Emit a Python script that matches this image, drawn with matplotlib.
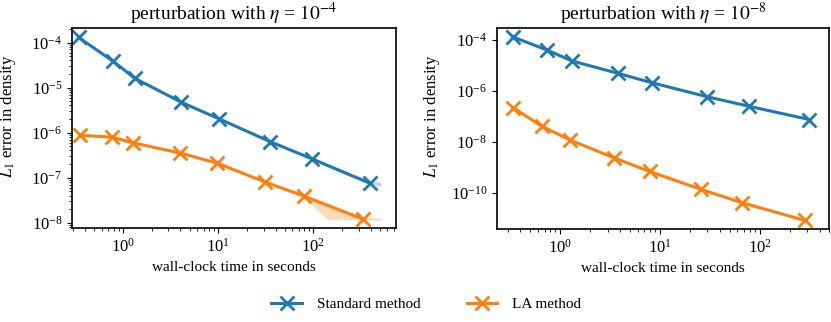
import matplotlib.pyplot as plt

plt.rcParams['font.family'] = 'serif'
plt.rcParams['font.serif'] = ['Liberation Serif', 'DejaVu Serif']
plt.rcParams['mathtext.fontset'] = 'stix'
plt.rcParams['font.size'] = 11
plt.rcParams['xtick.labelsize'] = 12
plt.rcParams['ytick.labelsize'] = 12
plt.rcParams['axes.linewidth'] = 1.2

# eta = 1e-4
t_std_a = [0.34, 0.79, 1.33, 4.1, 10.3, 35, 97, 398]
e_std_a = [1.3e-4, 3.8e-5, 1.6e-5, 4.7e-6, 2.0e-6, 6.3e-7, 2.6e-7, 7.4e-8]
t_la_a = [0.35, 0.76, 1.28, 4.0, 9.7, 31, 79, 333]
e_la_a = [8.7e-7, 7.9e-7, 5.9e-7, 3.5e-7, 2.1e-7, 8.0e-8, 3.9e-8, 1.2e-8]

# spread over runs (only visible at the long end)
band_std_t = [97, 200, 398, 510]
band_std_lo = [2.5e-7, 1.25e-7, 7.0e-8, 6.6e-8]
band_std_hi = [2.7e-7, 1.5e-7, 8.2e-8, 7.9e-8]
band_la_t = [79, 139, 333, 510]
band_la_lo = [3.9e-8, 1.2e-8, 1.15e-8, 1.12e-8]
band_la_hi = [3.9e-8, 2.6e-8, 1.3e-8, 1.25e-8]

# eta = 1e-8
t_std_b = [0.34, 0.74, 1.31, 3.8, 8.3, 30, 79, 316]
e_std_b = [1.28e-4, 4.0e-5, 1.5e-5, 4.9e-6, 2.1e-6, 5.9e-7, 2.5e-7, 7.6e-8]
t_la_b = [0.34, 0.66, 1.26, 3.5, 7.9, 26, 66, 282]
e_la_b = [2.2e-7, 4.1e-8, 1.2e-8, 2.4e-9, 7.1e-10, 1.4e-10, 4.3e-11, 8.7e-12]

blue = '#1f77b4'
orange = '#ff7f0e'

fig = plt.figure(figsize=(8.31, 3.22), dpi=100)
ax1 = fig.add_axes([0.0866, 0.292, 0.390, 0.621])
ax2 = fig.add_axes([0.598, 0.289, 0.400, 0.624])

style = dict(marker='x', markersize=10, markeredgewidth=2, linewidth=2.2)

ax1.fill_between(band_std_t, band_std_lo, band_std_hi, color=blue, alpha=0.3, linewidth=0)
ax1.fill_between(band_la_t, band_la_lo, band_la_hi, color=orange, alpha=0.3, linewidth=0)
l1, = ax1.plot(t_std_a, e_std_a, color=blue, label='Standard method', **style)
l2, = ax1.plot(t_la_a, e_la_a, color=orange, label='LA method', **style)
ax1.set_xlim(0.29, 740)
ax1.set_ylim(7.6e-9, 2.1e-4)
ax1.set_title(r'perturbation with $\eta$ = $10^{-4}$', fontsize=14)

ax2.plot(t_std_b, e_std_b, color=blue, **style)
ax2.plot(t_la_b, e_la_b, color=orange, **style)
ax2.set_xlim(0.233, 500)
ax2.set_ylim(4e-12, 2.9e-4)
ax2.set_title(r'perturbation with $\eta$ = $10^{-8}$', fontsize=14)

for ax in (ax1, ax2):
    ax.set_xscale('log')
    ax.set_yscale('log')
    ax.set_xlabel('wall-clock time in seconds')
    ax.set_ylabel(r'$L_1$ error in density', fontsize=12)
    ax.yaxis.set_label_coords(-0.165, 0.56)

fig.legend(handles=[l1, l2], loc='lower center', ncol=2, frameon=False,
           bbox_to_anchor=(0.513, -0.01), columnspacing=3, handletextpad=1.0)

fig.savefig('out.png', dpi=100)
